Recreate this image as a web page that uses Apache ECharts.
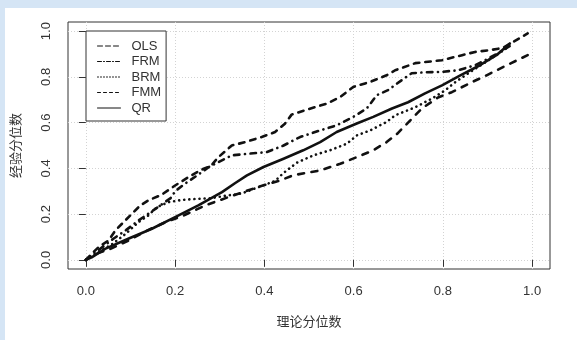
<!DOCTYPE html>
<html>
<head>
<meta charset="utf-8">
<script src="https://cdn.jsdelivr.net/npm/echarts@6/dist/echarts.min.js"></script>
<style>
    html, body { margin: 0; padding: 0; }
    body { width: 577px; height: 340px; background: #d5e5f5; position: relative; overflow: hidden; }
    #paper { position: absolute; left: 5px; top: 8px; right: 0; bottom: 0; background: #fff; }
    #main { position: absolute; left: 0; top: 0; width: 577px; height: 340px; }
</style>
</head>
<body>
<div id="paper"></div>
<div id="main"></div>
<script>
    var seriesNames = ['OLS', 'FRM', 'BRM', 'FMM', 'QR'];
    var tickValues = [0, 0.2, 0.4, 0.6, 0.8, 1.0];

    // [理论分位数, 经验分位数]
    var olsData = [[0, 0], [0.028, 0.055], [0.051, 0.085], [0.066, 0.128], [0.081, 0.158], [0.103, 0.201],
        [0.122, 0.238], [0.14, 0.26], [0.17, 0.285], [0.2, 0.325], [0.23, 0.362], [0.26, 0.395],
        [0.28, 0.41], [0.297, 0.449], [0.327, 0.5], [0.357, 0.515], [0.394, 0.537], [0.424, 0.559],
        [0.446, 0.595], [0.461, 0.635], [0.502, 0.661], [0.54, 0.683], [0.57, 0.712], [0.599, 0.756],
        [0.637, 0.778], [0.674, 0.807], [0.693, 0.829], [0.738, 0.86], [0.798, 0.873], [0.843, 0.895],
        [0.872, 0.909], [0.906, 0.917], [0.935, 0.927], [0.99, 0.99]];
    var frmData = [[0, 0], [0.03, 0.045], [0.06, 0.09], [0.09, 0.13], [0.12, 0.175], [0.15, 0.215],
        [0.19, 0.27], [0.2, 0.3], [0.22, 0.33], [0.25, 0.37], [0.275, 0.405], [0.297, 0.427],
        [0.327, 0.457], [0.364, 0.464], [0.405, 0.471], [0.443, 0.5], [0.48, 0.537], [0.525, 0.566],
        [0.562, 0.588], [0.599, 0.625], [0.629, 0.661], [0.652, 0.72], [0.677, 0.742], [0.708, 0.786],
        [0.73, 0.816], [0.759, 0.82], [0.798, 0.822], [0.834, 0.829], [0.872, 0.851], [0.895, 0.873],
        [0.92, 0.9], [0.95, 0.935]];
    var brmData = [[0, 0], [0.03, 0.035], [0.06, 0.07], [0.09, 0.115], [0.118, 0.165], [0.14, 0.194],
        [0.159, 0.23], [0.185, 0.252], [0.215, 0.262], [0.252, 0.267], [0.282, 0.27], [0.312, 0.28],
        [0.349, 0.29], [0.387, 0.318], [0.424, 0.345], [0.443, 0.38], [0.473, 0.425], [0.51, 0.457],
        [0.547, 0.479], [0.585, 0.508], [0.607, 0.544], [0.637, 0.566], [0.674, 0.603], [0.693, 0.632],
        [0.738, 0.667], [0.776, 0.706], [0.805, 0.741], [0.827, 0.776], [0.86, 0.82], [0.9, 0.87],
        [0.95, 0.935]];
    var fmmData = [[0, 0], [0.022, 0.026], [0.055, 0.048], [0.096, 0.085], [0.137, 0.128], [0.179, 0.165],
        [0.22, 0.195], [0.27, 0.24], [0.319, 0.274], [0.385, 0.318], [0.435, 0.347], [0.465, 0.37],
        [0.525, 0.391], [0.57, 0.42], [0.607, 0.449], [0.644, 0.479], [0.674, 0.515], [0.698, 0.552],
        [0.722, 0.6], [0.753, 0.662], [0.789, 0.71], [0.82, 0.733], [0.865, 0.777], [0.898, 0.807],
        [0.943, 0.851], [0.99, 0.895]];
    var qrData = [[0, 0], [0.013, 0.011], [0.043, 0.048], [0.095, 0.092], [0.148, 0.136], [0.2, 0.187],
        [0.252, 0.238], [0.305, 0.296], [0.334, 0.335], [0.361, 0.369], [0.398, 0.406], [0.443, 0.442],
        [0.487, 0.479], [0.525, 0.515], [0.562, 0.559], [0.607, 0.596], [0.644, 0.625], [0.686, 0.662],
        [0.722, 0.689], [0.76, 0.728], [0.798, 0.763], [0.839, 0.807], [0.883, 0.851], [0.92, 0.895],
        [0.95, 0.946]];

    var allData = [olsData, frmData, brmData, fmmData, qrData];
    // line patterns, thick in plot and thin in legend (like R lwd)
    var plotDash = [[5.5, 6], [5.5, 5.5, 0.1, 5.5], [0.1, 5], [6, 7.5], 'solid'];
    var legendDash = [[5, 3], [4, 2, 1, 2], [1, 2], [3, 3], 'solid'];

    var chart = echarts.init(document.getElementById('main'));
    var font = '"Liberation Sans", Arial, sans-serif';
    var cjk = '"Noto Sans CJK SC", sans-serif';

    function axisBase() {
        return {
            type: 'value',
            min: -0.04,
            max: 1.04,
            axisLine: { show: false },
            axisTick: {
                show: true, length: 7, customValues: tickValues,
                lineStyle: { color: '#333', width: 1 }
            },
            axisLabel: {
                customValues: tickValues,
                color: '#333', fontSize: 13, fontFamily: font,
                formatter: function (v) { return v.toFixed(1); }
            },
            splitLine: {
                show: true,
                lineStyle: { color: '#d3d3d3', type: [1, 2], width: 1 }
            },
            nameLocation: 'middle',
            nameTextStyle: { color: '#333', fontSize: 13, fontFamily: cjk }
        };
    }

    var xAxis = axisBase();
    xAxis.name = '理论分位数';
    xAxis.nameGap = 46;
    xAxis.axisLabel.margin = 16;

    var yAxis = axisBase();
    yAxis.name = '经验分位数';
    yAxis.nameGap = 46;
    yAxis.axisLabel.margin = 15;
    yAxis.axisLabel.rotate = 90;

    var series = seriesNames.map(function (name, i) {
        return {
            name: name,
            type: 'line',
            data: allData[i],
            symbol: 'none',
            silent: true,
            animation: false,
            itemStyle: { color: '#111' },
            lineStyle: {
                color: '#111', width: 2.6, type: plotDash[i], cap: 'round', join: 'round'
            }
        };
    });

    option = {
        backgroundColor: 'transparent',
        animation: false,
        grid: {
            left: 68, right: 27, top: 22, bottom: 71,
            show: true, borderColor: '#333', borderWidth: 1, backgroundColor: 'transparent'
        },
        legend: {
            orient: 'vertical',
            left: 86,
            top: 31,
            padding: [8, 5, 6, 11],
            itemGap: 1.5,
            itemWidth: 23,
            itemHeight: 14,
            borderColor: '#333',
            borderWidth: 1,
            backgroundColor: '#fff',
            selectedMode: false,
            textStyle: { color: '#333', fontSize: 13, fontFamily: font, padding: [0, 0, 0, 6], lineHeight: 14 },
            data: seriesNames.map(function (name, i) {
                return {
                    name: name,
                    itemStyle: { opacity: 0 },
                    lineStyle: { width: 1, type: legendDash[i], color: '#111', opacity: 1 }
                };
            })
        },
        xAxis: xAxis,
        yAxis: yAxis,
        series: series
    };

    chart.setOption(option);
</script>
</body>
</html>
